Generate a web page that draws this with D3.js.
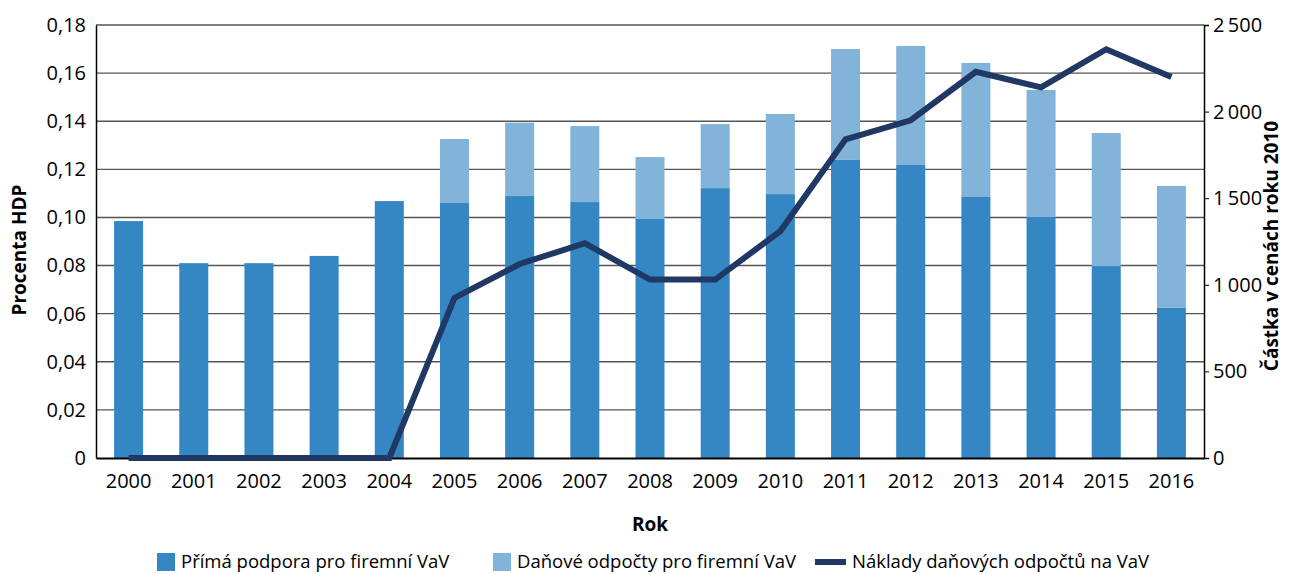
<!DOCTYPE html>
<html lang="cs">
<head>
<meta charset="UTF-8">
<title>Podpora firemního VaV</title>
<script src="https://d3js.org/d3.v7.min.js"></script>
<style>
    body { margin: 0; background: #fff; }
    text { font-family: 'Open Sans', sans-serif; fill: #000; }
</style>
</head>
<body>
<div id="chart"></div>
<script>
    // data
    var years = ["2000","2001","2002","2003","2004","2005","2006","2007","2008",
                 "2009","2010","2011","2012","2013","2014","2015","2016"];
    var directSupport = [0.0985, 0.081, 0.081, 0.084, 0.1068, 0.106, 0.1089, 0.1064, 0.0994,
                         0.1122, 0.1097, 0.1239, 0.1218, 0.1085, 0.1002, 0.0798, 0.0624];
    var taxDeduction = [0, 0, 0, 0, 0, 0.0266, 0.0305, 0.0316, 0.0257,
                        0.0266, 0.0333, 0.0461, 0.0495, 0.0557, 0.0528, 0.0553, 0.0507];
    var taxCost = [0, 0, 0, 0, 0, 925, 1120, 1240, 1030,
                   1030, 1310, 1840, 1950, 2230, 2140, 2360, 2200];
    var leftTicks = [0, 0.02, 0.04, 0.06, 0.08, 0.10, 0.12, 0.14, 0.16, 0.18];
    var rightTicks = [0, 500, 1000, 1500, 2000, 2500];

    var W = 1299, H = 574;
    var m = {top: 25, right: 95, bottom: 116, left: 96};
    var colDirect = "#3487c3", colTax = "#82b4da", colLine = "#203864";

    var svg = d3.select("#chart").append("svg")
        .attr("width", W).attr("height", H);

    var x = d3.scaleBand().domain(years)
        .range([m.left, W - m.right])
        .paddingInner(0.555).paddingOuter(0.2775);
    var y = d3.scaleLinear().domain([0, 0.18]).range([H - m.bottom, m.top]);
    var y2 = d3.scaleLinear().domain([0, 2500]).range([H - m.bottom, m.top]);

    // gridlines
    svg.append("g").selectAll("line").data(leftTicks.slice(1)).enter().append("line")
        .attr("x1", m.left).attr("x2", W - m.right)
        .attr("y1", d => y(d)).attr("y2", d => y(d))
        .attr("stroke", "#555").attr("stroke-width", 1.4);

    // stacked bars
    var stack = years.map((yr, i) => ({yr: yr, a: directSupport[i], b: taxDeduction[i]}));
    svg.append("g").selectAll("rect").data(stack).enter().append("rect")
        .attr("x", d => x(d.yr)).attr("width", x.bandwidth())
        .attr("y", d => y(d.a)).attr("height", d => y(0) - y(d.a))
        .attr("fill", colDirect);
    svg.append("g").selectAll("rect").data(stack.filter(d => d.b > 0)).enter().append("rect")
        .attr("x", d => x(d.yr)).attr("width", x.bandwidth())
        .attr("y", d => y(d.a + d.b)).attr("height", d => y(d.a) - y(d.a + d.b))
        .attr("fill", colTax);

    // axes
    var yAxis = d3.axisLeft(y).tickValues(leftTicks).tickSize(0).tickPadding(10)
        .tickFormat(d => d === 0 ? "0" : d3.format(".2f")(d).replace(".", ","));
    var gl = svg.append("g").attr("transform", "translate(" + m.left + ",0)").call(yAxis);
    gl.select(".domain").attr("stroke", "#000").attr("stroke-width", 1.5);

    var y2Axis = d3.axisRight(y2).tickValues(rightTicks).tickSize(5).tickPadding(4)
        .tickFormat(d => d >= 1000 ? d3.format(",")(d).replace(",", "\u2009") : d);
    var gr = svg.append("g").attr("transform", "translate(" + (W - m.right) + ",0)").call(y2Axis);
    gr.select(".domain").attr("stroke", "#000").attr("stroke-width", 1.5);
    gr.selectAll(".tick line").attr("stroke", "#000");

    var xAxis = d3.axisBottom(x).tickSize(0).tickPadding(16);
    var gx = svg.append("g").attr("transform", "translate(0," + (H - m.bottom) + ")").call(xAxis);
    gx.select(".domain").attr("stroke", "#000").attr("stroke-width", 2);

    svg.selectAll(".tick text").attr("font-size", 20).attr("font-family", "'Open Sans', sans-serif");

    // line on right axis
    var line = d3.line().x((d, i) => x(years[i]) + x.bandwidth() / 2).y(d => y2(d));
    svg.append("path").datum(taxCost)
        .attr("d", line).attr("fill", "none")
        .attr("stroke", colLine).attr("stroke-width", 6);

    // axis titles
    svg.append("text").attr("x", 650).attr("y", 531).attr("text-anchor", "middle")
        .attr("font-size", 19).attr("font-weight", "bold").text("Rok");
    svg.append("text").attr("transform", "translate(26,250) rotate(-90)")
        .attr("text-anchor", "middle").attr("font-size", 19).attr("font-weight", "bold")
        .text("Procenta HDP");
    svg.append("text").attr("transform", "translate(1278,246) rotate(-90)")
        .attr("text-anchor", "middle").attr("font-size", 19).attr("font-weight", "bold")
        .text("Částka v cenách roku 2010");

    // legend
    var legend = [
        {label: "Přímá podpora pro firemní VaV", color: colDirect, type: "box", x: 157},
        {label: "Daňové odpočty pro firemní VaV", color: colTax, type: "box", x: 493},
        {label: "Náklady daňových odpočtů na VaV", color: colLine, type: "line", x: 815}
    ];
    var lg = svg.append("g").selectAll("g").data(legend).enter().append("g")
        .attr("transform", d => "translate(" + d.x + ",553)");
    lg.filter(d => d.type === "box").append("rect")
        .attr("width", 18).attr("height", 18).attr("fill", d => d.color);
    lg.filter(d => d.type === "line").append("rect")
        .attr("y", 6).attr("width", 31).attr("height", 6).attr("fill", d => d.color);
    lg.append("text").attr("x", d => d.type === "line" ? 37 : 24).attr("y", 15)
        .attr("font-size", 18.5).text(d => d.label);
</script>
</body>
</html>
